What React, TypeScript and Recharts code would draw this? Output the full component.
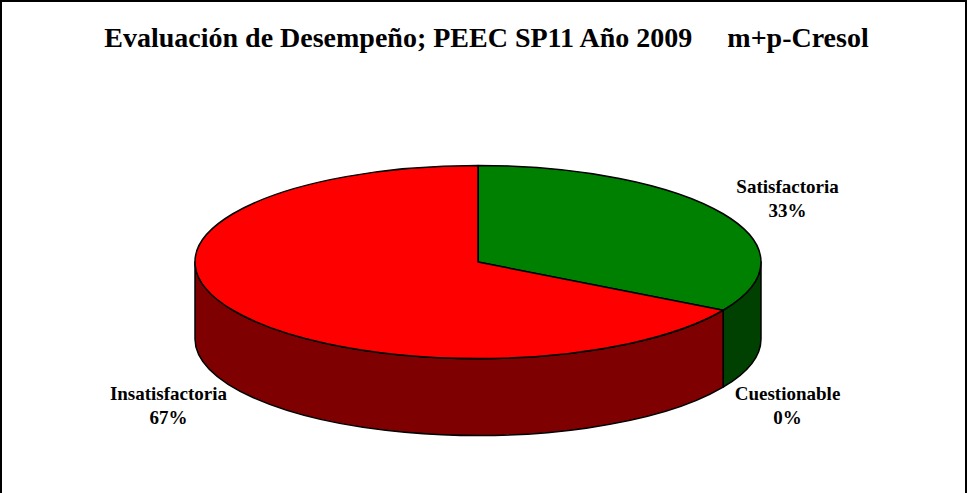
import { PieChart, Pie, Cell } from 'recharts';

const categories = ['Satisfactoria', 'Cuestionable', 'Insatisfactoria'];
const counts = [1, 0, 2];
const topColors = ['#008000', '#ffff00', '#ff0000'];
const sideColors = ['#004000', '#808000', '#7f0000'];

const title = 'Evaluación de Desempeño; PEEC SP11 Año 2009     m+p-Cresol';

const data = categories.map((name, i) => ({ name, value: counts[i] }));

const TILT = 0.341; // vertical squash of the top face
const DEPTH = 0.272; // wall height as part of radius
const RAD = Math.PI / 180;

// slice drawn as an elliptical top face plus the visible front wall
const Slice3D = (props: any) => {
    const { cx, cy, outerRadius, startAngle, endAngle, index } = props;
    if (Math.abs(startAngle - endAngle) < 0.01) return null;
    const rx = outerRadius;
    const ry = outerRadius * TILT;
    const depth = outerRadius * DEPTH;
    // screen angle, clockwise from 3 o'clock
    const pt = (t: number, dy = 0) => [cx + rx * Math.cos(t * RAD), cy + ry * Math.sin(t * RAD) + dy];
    const t1 = -startAngle;
    const t2 = -endAngle;
    const walls: string[] = [];
    for (let k = -1; k <= 1; k++) {
        const a = Math.max(t1, 360 * k);
        const b = Math.min(t2, 180 + 360 * k);
        if (b - a > 0.01) {
            const [ax, ay] = pt(a);
            const [bx, by] = pt(b);
            const large = b - a > 180 ? 1 : 0;
            walls.push(
                `M${ax},${ay} A${rx},${ry} 0 ${large} 1 ${bx},${by} L${bx},${by + depth} A${rx},${ry} 0 ${large} 0 ${ax},${ay + depth} Z`
            );
        }
    }
    const [sx, sy] = pt(t1);
    const [ex, ey] = pt(t2);
    const large = t2 - t1 > 180 ? 1 : 0;
    const top = `M${cx},${cy} L${sx},${sy} A${rx},${ry} 0 ${large} 1 ${ex},${ey} Z`;
    return (
        <g>
            {walls.map((d, i) => (
                <path key={i} d={d} fill={sideColors[index]} stroke="#000" strokeWidth={1.5} strokeLinejoin="round" />
            ))}
            <path d={top} fill={topColors[index]} stroke="#000" strokeWidth={1.5} strokeLinejoin="round" />
        </g>
    );
};

const renderLabel = (props: any) => {
    const { cx, cy, outerRadius, midAngle, percent, name } = props;
    const s = Math.sin(midAngle * RAD);
    const x = cx + outerRadius * 1.263 * Math.cos(midAngle * RAD);
    let y = cy - outerRadius * 0.46 * s;
    if (s < 0) y += outerRadius * DEPTH;
    return (
        <text
            x={x}
            y={y}
            textAnchor="middle"
            fontFamily="'Liberation Serif', 'Times New Roman', serif"
            fontWeight="bold"
            fontSize={19}
            fill="#000"
        >
            <tspan x={x} dy={-4}>{name}</tspan>
            <tspan x={x} dy={24}>{`${Math.round(percent * 100)}%`}</tspan>
        </text>
    );
};

export default function App() {
    return (
        <div style={{ position: 'absolute', left: 0, top: 0, width: 968, height: 493, background: '#fff' }}>
            <div style={{
                position: 'absolute',
                left: 0,
                top: 0,
                width: 967,
                height: 500,
                borderLeft: '2px solid #000',
                borderTop: '2px solid #000',
                borderRight: '2px solid #000',
                boxSizing: 'border-box',
                pointerEvents: 'none'
            }} />
            <div style={{
                position: 'absolute',
                left: 0,
                top: 24,
                width: 973,
                textAlign: 'center',
                fontFamily: "'Liberation Serif', 'Times New Roman', serif",
                fontWeight: 'bold',
                fontSize: 28,
                lineHeight: '28px',
                whiteSpace: 'pre'
            }}>
                {title}
            </div>
            <PieChart
                width={968}
                height={493}
                margin={{ top: 0, right: 0, bottom: 0, left: 0 }}
                style={{ position: 'absolute', left: 0, top: 0 }}
            >
                <Pie
                    data={data}
                    dataKey="value"
                    nameKey="name"
                    cx={478}
                    cy={262}
                    innerRadius={0}
                    outerRadius={283}
                    startAngle={90}
                    endAngle={-270}
                    shape={Slice3D}
                    label={renderLabel}
                    labelLine={false}
                    isAnimationActive={false}
                >
                    {data.map((_, i) => (
                        <Cell key={`cell-${i}`} fill={topColors[i]} />
                    ))}
                </Pie>
            </PieChart>
        </div>
    );
}
